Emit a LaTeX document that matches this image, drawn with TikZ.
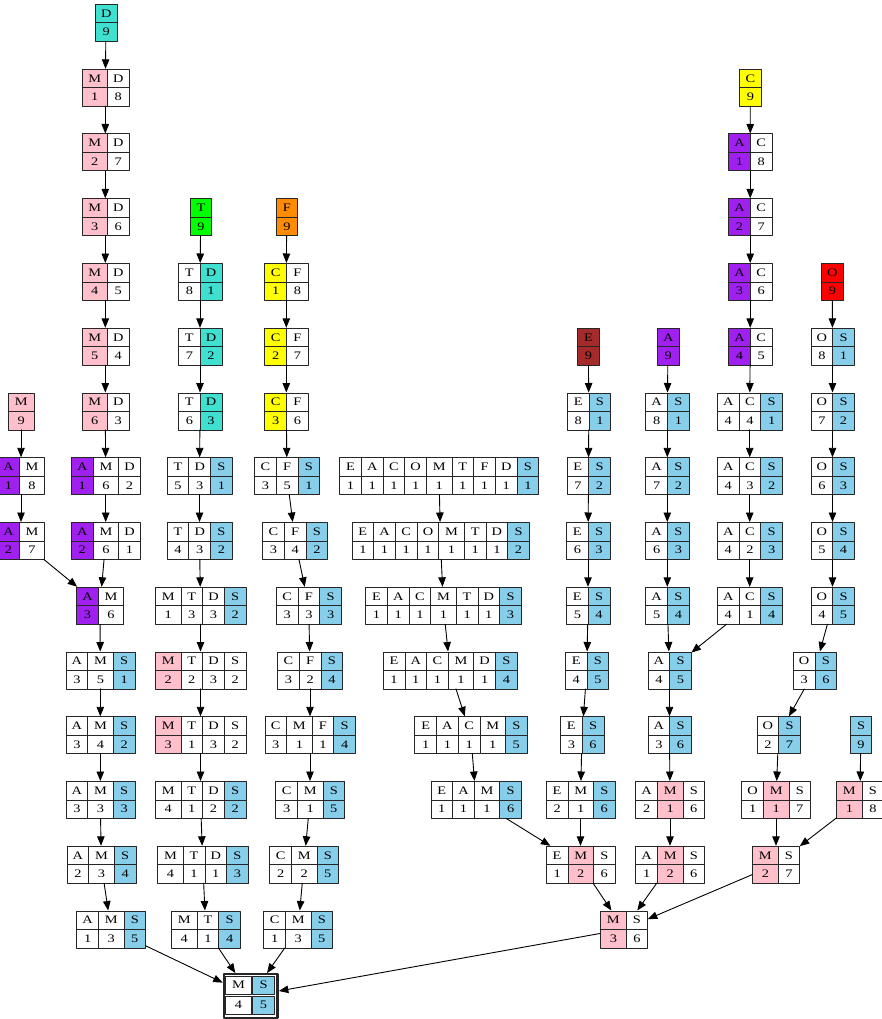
\documentclass[tikz,border=0pt]{standalone}
\usepackage{graphicx}
\usepackage{fontspec}
\setmainfont{Liberation Serif}
\usetikzlibrary{arrows.meta}

\definecolor{turq}{HTML}{40E0D0}
\definecolor{gvpink}{HTML}{FFC0CB}
\definecolor{gvpurple}{HTML}{A020F0}
\definecolor{sky}{HTML}{87CEEB}
\definecolor{gvgreen}{HTML}{00FF00}
\definecolor{gvorange}{HTML}{FF8C00}
\definecolor{gvyellow}{HTML}{FFFF00}
\definecolor{gvred}{HTML}{FF0000}
\definecolor{gvbrown}{HTML}{A52A2A}

\expandafter\def\csname cwM\endcsname{25.5}
\newcommand{\getw}[1]{\ifcsname cw#1\endcsname\edef\cwd{\csname cw#1\endcsname}\else\def\cwd{21.7}\fi}
\newcommand{\wide}[1]{\scalebox{1.25}[1]{#1}}

% one record: name, centre, cells letter/number/fill
\newcommand{\tbl}[3]{%
  \gdef\tblw{0}%
  \foreach \lt/\nm/\cl in {#3}{\getw{\lt}\pgfmathsetmacro\tmpw{\tblw+\cwd}\xdef\tblw{\tmpw}}%
  \node[tblbox,minimum width=\tblw pt] (#1) at (#2) {};
  \gdef\tblx{0}%
  \foreach \lt/\nm/\cl [count=\i] in {#3}{%
    \getw{\lt}%
    \node[cell,fill=\cl,minimum width=\cwd pt] (#1-t\i) at ([xshift=\tblx pt]#1.north west) {\wide{\lt}};
    \node[cell,fill=\cl,minimum width=\cwd pt] (#1-b\i) at ([xshift=\tblx pt,yshift=-18.5pt]#1.north west) {\wide{\nm}};
    \pgfmathsetmacro\tmpx{\tblx+\cwd}\xdef\tblx{\tmpx}%
  }%
}

\begin{document}
\begin{tikzpicture}[x=1pt,y=-1pt,line cap=round,line join=round,
  tblbox/.style={rectangle,inner sep=0pt,minimum height=37pt},
  cell/.style={rectangle,draw=black!85,line width=0.8pt,inner sep=0pt,minimum height=18.5pt,anchor=north west,font=\fontsize{11.5}{12}\selectfont},
  edge/.style={-{Triangle[length=9.5pt,width=7.5pt]},line width=0.9pt}]
  \useasboundingbox (0,0) rectangle (882,1019);

  \tbl{d1}{106,22.7}{D/9/turq}
  \tbl{d2}{105.3,87.5}{M/1/gvpink,D/8/white}
  \tbl{d3}{105.3,152.2}{M/2/gvpink,D/7/white}
  \tbl{d4}{105.3,217}{M/3/gvpink,D/6/white}
  \tbl{d5}{105.3,281.7}{M/4/gvpink,D/5/white}
  \tbl{d6}{105.3,346.5}{M/5/gvpink,D/4/white}
  \tbl{d7}{105.3,411.2}{M/6/gvpink,D/3/white}
  \tbl{d8}{105.7,476}{A/1/gvpurple,M/6/white,D/2/white}
  \tbl{d9}{105.7,540.7}{A/2/gvpurple,M/6/white,D/1/white}
  \tbl{l7}{21,411.2}{M/9/gvpink}
  \tbl{l8}{21,476}{A/1/gvpurple,M/8/white}
  \tbl{l9}{21,540.7}{A/2/gvpurple,M/7/white}
  \tbl{a10}{100,605.5}{A/3/gvpurple,M/6/white}
  \tbl{a11}{100.3,670.2}{A/3/white,M/5/white,S/1/sky}
  \tbl{a12}{100.3,735}{A/3/white,M/4/white,S/2/sky}
  \tbl{a13}{100.3,799.7}{A/3/white,M/3/white,S/3/sky}
  \tbl{a14}{101.3,864.5}{A/2/white,M/3/white,S/4/sky}
  \tbl{a15}{111,929.2}{A/1/white,M/3/white,S/5/sky}

  \tbl{t4}{200.7,217}{T/9/gvgreen}
  \tbl{t5}{200,281.7}{T/8/white,D/1/turq}
  \tbl{t6}{200,346.5}{T/7/white,D/2/turq}
  \tbl{t7}{200,411.2}{T/6/white,D/3/turq}
  \tbl{t8}{199.5,476}{T/5/white,D/3/white,S/1/sky}
  \tbl{t9}{199.5,540.7}{T/4/white,D/3/white,S/2/sky}
  \tbl{t10}{200.5,605.5}{M/1/white,T/3/white,D/3/white,S/2/sky}
  \tbl{t11}{200.5,670.2}{M/2/gvpink,T/2/white,D/3/white,S/2/white}
  \tbl{t12}{200.5,735}{M/3/gvpink,T/1/white,D/3/white,S/2/white}
  \tbl{t13}{200.5,799.7}{M/4/white,T/1/white,D/2/white,S/2/sky}
  \tbl{t14}{202.8,864.5}{M/4/white,T/1/white,D/1/white,S/3/sky}
  \tbl{t15}{205.8,929.2}{M/4/white,T/1/white,S/4/sky}

  \tbl{f4}{286.7,217}{F/9/gvorange}
  \tbl{f5}{286.3,281.7}{C/1/gvyellow,F/8/white}
  \tbl{f6}{286.3,346.5}{C/2/gvyellow,F/7/white}
  \tbl{f7}{286.3,411.2}{C/3/gvyellow,F/6/white}
  \tbl{f8}{287,476}{C/3/white,F/5/white,S/1/sky}
  \tbl{f9}{295,540.7}{C/3/white,F/4/white,S/2/sky}
  \tbl{f10}{308.7,605.5}{C/3/white,F/3/white,S/3/sky}
  \tbl{f11}{310,670.2}{C/3/white,F/2/white,S/4/sky}
  \tbl{f12}{310,735}{C/3/white,M/1/white,F/1/white,S/4/sky}
  \tbl{f13}{310,799.7}{C/3/white,M/1/white,S/5/sky}
  \tbl{f14}{304,864.5}{C/2/white,M/2/white,S/5/sky}
  \tbl{f15}{298,929.2}{C/1/white,M/3/white,S/5/sky}

  \tbl{e8}{439,476}{E/1/white,A/1/white,C/1/white,O/1/white,M/1/white,T/1/white,F/1/white,D/1/white,S/1/sky}
  \tbl{e9}{440.5,540.7}{E/1/white,A/1/white,C/1/white,O/1/white,M/1/white,T/1/white,D/1/white,S/2/sky}
  \tbl{e10}{443.3,605.5}{E/1/white,A/1/white,C/1/white,M/1/white,T/1/white,D/1/white,S/3/sky}
  \tbl{e11}{450,670.2}{E/1/white,A/1/white,C/1/white,M/1/white,D/1/white,S/4/sky}
  \tbl{e12}{470.8,735}{E/1/white,A/1/white,C/1/white,M/1/white,S/5/sky}
  \tbl{e13}{476,799.7}{E/1/white,A/1/white,M/1/white,S/6/sky}

  \tbl{es6}{588.3,346.5}{E/9/gvbrown}
  \tbl{es7}{588.8,411.2}{E/8/white,S/1/sky}
  \tbl{es8}{588.5,476}{E/7/white,S/2/sky}
  \tbl{es9}{588,540.7}{E/6/white,S/3/sky}
  \tbl{es10}{588,605.5}{E/5/white,S/4/sky}
  \tbl{es11}{586.8,670.2}{E/4/white,S/5/sky}
  \tbl{es12}{582,735}{E/3/white,S/6/sky}
  \tbl{es13}{580.5,799.7}{E/2/white,M/1/white,S/6/sky}
  \tbl{es14}{580.5,864.5}{E/1/white,M/2/gvpink,S/6/white}

  \tbl{as6}{668,346.5}{A/9/gvpurple}
  \tbl{as7}{667.3,411.2}{A/8/white,S/1/sky}
  \tbl{as8}{667.3,476}{A/7/white,S/2/sky}
  \tbl{as9}{667.3,540.7}{A/6/white,S/3/sky}
  \tbl{as10}{667.3,605.5}{A/5/white,S/4/sky}
  \tbl{as11}{669.5,670.2}{A/4/white,S/5/sky}
  \tbl{as12}{669.5,735}{A/3/white,S/6/sky}
  \tbl{as13}{670,799.7}{A/2/white,M/1/gvpink,S/6/white}
  \tbl{as14}{670,864.5}{A/1/white,M/2/gvpink,S/6/white}

  \tbl{c2}{750.3,87.5}{C/9/gvyellow}
  \tbl{c3}{750.2,152.2}{A/1/gvpurple,C/8/white}
  \tbl{c4}{750.2,217}{A/2/gvpurple,C/7/white}
  \tbl{c5}{750.2,281.7}{A/3/gvpurple,C/6/white}
  \tbl{c6}{750.2,346.5}{A/4/gvpurple,C/5/white}
  \tbl{c7}{749.7,411.2}{A/4/white,C/4/white,S/1/sky}
  \tbl{c8}{749.7,476}{A/4/white,C/3/white,S/2/sky}
  \tbl{c9}{749.7,540.7}{A/4/white,C/2/white,S/3/sky}
  \tbl{c10}{749.7,605.5}{A/4/white,C/1/white,S/4/sky}

  \tbl{o5}{832.2,281.7}{O/9/gvred}
  \tbl{o6}{832.5,346.5}{O/8/white,S/1/sky}
  \tbl{o7}{832.5,411.2}{O/7/white,S/2/sky}
  \tbl{o8}{832.5,476}{O/6/white,S/3/sky}
  \tbl{o9}{832.5,540.7}{O/5/white,S/4/sky}
  \tbl{o10}{832.5,605.5}{O/4/white,S/5/sky}
  \tbl{o11}{814.8,670.2}{O/3/white,S/6/sky}
  \tbl{o12}{778.5,735}{O/2/white,S/7/sky}
  \tbl{o13}{776,799.7}{O/1/white,M/1/gvpink,S/7/white}
  \tbl{o14}{776,864.5}{M/2/gvpink,S/7/white}

  \tbl{s12}{860.8,735}{S/9/sky}
  \tbl{s13}{860,799.7}{M/1/gvpink,S/8/white}

  \tbl{m15}{624,929.2}{M/3/gvpink,S/6/white}

  \node[tblbox,draw=black!85,line width=2.4pt,minimum width=53.7pt,minimum height=43.5pt] (fin) at (250.8,996) {};
  \node[cell,minimum width=25.5pt] (fin-t1) at ([shift={(2.5pt,-2.5pt)}]fin.north west) {\wide{M}};
  \node[cell,fill=sky,minimum width=21.7pt] (fin-t2) at ([shift={(29.5pt,-2.5pt)}]fin.north west) {\wide{S}};
  \node[cell,minimum width=25.5pt] (fin-b1) at ([shift={(2.5pt,-22.5pt)}]fin.north west) {\wide{4}};
  \node[cell,fill=sky,minimum width=21.7pt] (fin-b2) at ([shift={(29.5pt,-22.5pt)}]fin.north west) {\wide{5}};

  \draw[edge] (d1) -- (d2);
  \draw[edge] (d2) -- (d3);
  \draw[edge] (d3) -- (d4);
  \draw[edge] (d4) -- (d5);
  \draw[edge] (d5) -- (d6);
  \draw[edge] (d6) -- (d7);
  \draw[edge] (d7) -- (d8);
  \draw[edge] (d8) -- (d9);
  \draw[edge] (d9) -- (a10);
  \draw[edge] (l7) -- (l8);
  \draw[edge] (l8) -- (l9);
  \draw[edge] (l9) -- (a10);
  \draw[edge] (a10) -- (a11);
  \draw[edge] (a11) -- (a12);
  \draw[edge] (a12) -- (a13);
  \draw[edge] (a13) -- (a14);
  \draw[edge] (a14) -- (a15);
  \draw[edge] (a15) -- (fin);

  \draw[edge] (t4) -- (t5);
  \draw[edge] (t5) -- (t6);
  \draw[edge] (t6) -- (t7);
  \draw[edge] (t7) -- (t8);
  \draw[edge] (t8) -- (t9);
  \draw[edge] (t9) -- (t10);
  \draw[edge] (t10) -- (t11);
  \draw[edge] (t11) -- (t12);
  \draw[edge] (t12) -- (t13);
  \draw[edge] (t13) -- (t14);
  \draw[edge] (t14) -- (t15);
  \draw[edge] (t15) -- (fin);

  \draw[edge] (f4) -- (f5);
  \draw[edge] (f5) -- (f6);
  \draw[edge] (f6) -- (f7);
  \draw[edge] (f7) -- (f8);
  \draw[edge] (f8) -- (f9);
  \draw[edge] (f9) -- (f10);
  \draw[edge] (f10) -- (f11);
  \draw[edge] (f11) -- (f12);
  \draw[edge] (f12) -- (f13);
  \draw[edge] (f13) -- (f14);
  \draw[edge] (f14) -- (f15);
  \draw[edge] (f15) -- (fin);

  \draw[edge] (e8) -- (e9);
  \draw[edge] (e9) -- (e10);
  \draw[edge] (e10) -- (e11);
  \draw[edge] (e11) -- (e12);
  \draw[edge] (e12) -- (e13);
  \draw[edge] (e13) -- (es14);

  \draw[edge] (es6) -- (es7);
  \draw[edge] (es7) -- (es8);
  \draw[edge] (es8) -- (es9);
  \draw[edge] (es9) -- (es10);
  \draw[edge] (es10) -- (es11);
  \draw[edge] (es11) -- (es12);
  \draw[edge] (es12) -- (es13);
  \draw[edge] (es13) -- (es14);
  \draw[edge] (es14) -- (m15);

  \draw[edge] (as6) -- (as7);
  \draw[edge] (as7) -- (as8);
  \draw[edge] (as8) -- (as9);
  \draw[edge] (as9) -- (as10);
  \draw[edge] (as10) -- (as11);
  \draw[edge] (as11) -- (as12);
  \draw[edge] (as12) -- (as13);
  \draw[edge] (as13) -- (as14);
  \draw[edge] (as14) -- (m15);

  \draw[edge] (c2) -- (c3);
  \draw[edge] (c3) -- (c4);
  \draw[edge] (c4) -- (c5);
  \draw[edge] (c5) -- (c6);
  \draw[edge] (c6) -- (c7);
  \draw[edge] (c7) -- (c8);
  \draw[edge] (c8) -- (c9);
  \draw[edge] (c9) -- (c10);
  \draw[edge] (c10) -- (as11);

  \draw[edge] (o5) -- (o6);
  \draw[edge] (o6) -- (o7);
  \draw[edge] (o7) -- (o8);
  \draw[edge] (o8) -- (o9);
  \draw[edge] (o9) -- (o10);
  \draw[edge] (o10) -- (o11);
  \draw[edge] (o11) -- (o12);
  \draw[edge] (o12) -- (o13);
  \draw[edge] (o13) -- (o14);
  \draw[edge] (s12) -- (s13);
  \draw[edge] (s13) -- (o14);
  \draw[edge] (o14) -- (m15);
  \draw[edge] (m15) -- (fin);
\end{tikzpicture}
\end{document}
